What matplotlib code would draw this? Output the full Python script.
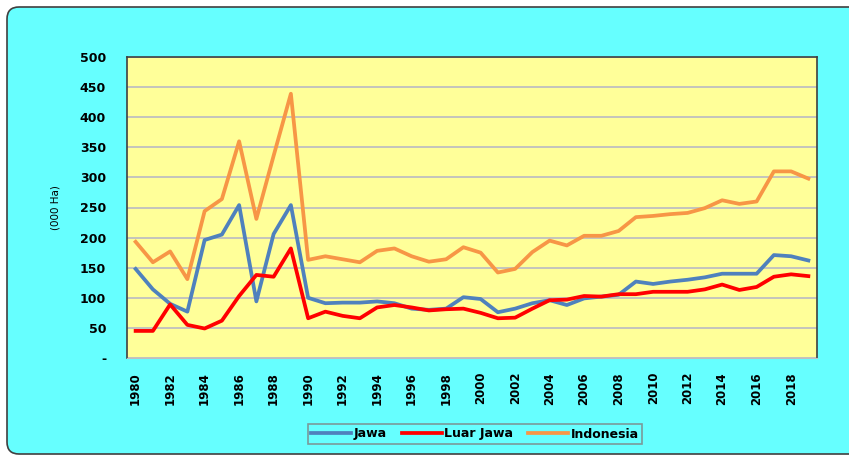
import numpy as np
import matplotlib.pyplot as plt
from matplotlib.patches import FancyBboxPatch

years = list(range(1980, 2020))
jawa = [148, 114, 90, 77, 196, 205, 254, 94, 206, 254,
        100, 91, 92, 92, 94, 91, 82, 80, 82, 101,
        98, 76, 82, 91, 96, 88, 99, 102, 105, 127,
        123, 127, 130, 134, 140, 140, 140, 171, 169, 162]
luar_jawa = [45, 45, 89, 55, 49, 62, 103, 138, 135, 182,
             66, 77, 70, 66, 84, 88, 84, 79, 81, 82,
             75, 66, 67, 82, 96, 97, 103, 102, 106, 106,
             110, 110, 110, 114, 122, 113, 118, 135, 139, 136]
indonesia = [193, 159, 177, 131, 244, 264, 360, 231, 336, 439,
             163, 169, 164, 159, 178, 182, 169, 160, 164, 184,
             175, 142, 148, 176, 195, 187, 203, 203, 211, 234,
             236, 239, 241, 249, 262, 256, 260, 310, 310, 298]
y_ticks = [0, 50, 100, 150, 200, 250, 300, 350, 400, 450, 500]
y_labels = ['-'] + [str(v) for v in y_ticks[1:]]

W, H = 849, 459
fig = plt.figure(figsize=(W / 100, H / 100), dpi=100)
fig.patch.set_facecolor('white')

# background axes in pixel units, holds the rounded cyan frame
bg = fig.add_axes([0, 0, 1, 1], zorder=-1)
bg.set_xlim(0, W)
bg.set_ylim(H, 0)
bg.axis('off')
bg.add_patch(FancyBboxPatch((7, 7), 870, 447,
                            boxstyle='round,pad=0,rounding_size=12',
                            facecolor='#66FFFF', edgecolor='#404040',
                            linewidth=1.2))

ax = fig.add_axes([127 / W, 1 - 358 / H, 690 / W, 301 / H])
ax.set_facecolor('#FFFF99')

x = np.arange(len(years))
ax.plot(x, jawa, color='#4F81BD', lw=2.7, label='Jawa', zorder=3)
ax.plot(x, luar_jawa, color='#FF0000', lw=2.7, label='Luar Jawa', zorder=4)
ax.plot(x, indonesia, color='#F79646', lw=2.7, label='Indonesia', zorder=3)

ax.set_xlim(-0.5, len(years) - 0.5)
ax.set_ylim(0, 500)
ax.set_yticks(y_ticks)
ax.set_yticklabels(y_labels, fontsize=9, fontweight='bold')
ax.set_xticks(x[::2])
ax.set_xticklabels([str(y) for y in years[::2]], rotation=90,
                   fontsize=8.5, fontweight='bold')
ax.tick_params(axis='y', length=0, pad=15)
ax.tick_params(axis='x', length=0, pad=10)
ax.grid(axis='y', color='#BFBFBF', lw=1.3, zorder=1)
ax.set_axisbelow(True)
for s in ['left', 'top', 'right']:
    ax.spines[s].set_color('#404040')
    ax.spines[s].set_linewidth(1.2)
ax.spines['bottom'].set_color('#BFBFBF')

ax.set_ylabel('(000 Ha)', fontsize=7.5, labelpad=14)

leg = fig.legend(loc='center', bbox_to_anchor=(475 / W, 1 - 434 / H), ncol=3,
                 frameon=True, fancybox=False,
                 handlelength=3.2, handletextpad=0.2, columnspacing=1.2,
                 borderpad=0.25, prop={'weight': 'bold', 'size': 9})
leg.get_frame().set_facecolor('#66FFFF')
leg.get_frame().set_edgecolor('#808080')
leg.get_frame().set_linewidth(1.2)

fig.savefig('out.png', dpi=100, facecolor=fig.get_facecolor())
